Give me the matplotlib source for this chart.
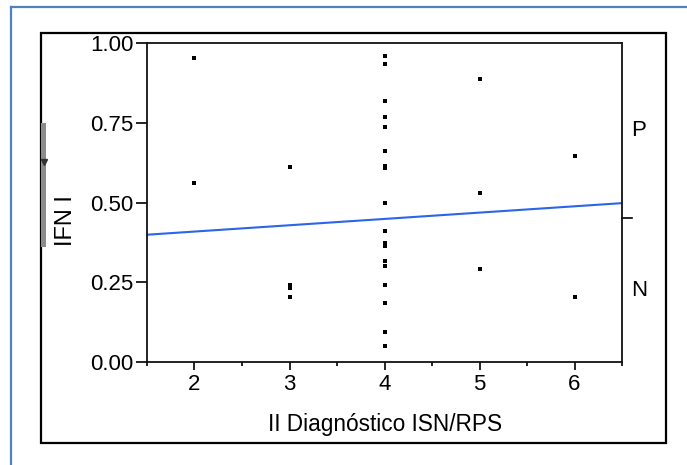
import matplotlib.pyplot as plt
from matplotlib.patches import Rectangle
from matplotlib.lines import Line2D

# datos
diag_x = [2, 2,
          3, 3, 3, 3,
          4, 4, 4, 4, 4, 4, 4, 4, 4, 4, 4, 4, 4, 4, 4, 4, 4, 4,
          5, 5, 5,
          6, 6]
ifn_y = [0.954, 0.562,
         0.612, 0.241, 0.231, 0.204,
         0.959, 0.933, 0.817, 0.768, 0.738, 0.662, 0.614, 0.607, 0.500, 0.410,
         0.372, 0.365, 0.316, 0.301, 0.240, 0.185, 0.094, 0.049,
         0.888, 0.531, 0.290,
         0.647, 0.205]
linea_x = [1.5, 6.5]
linea_y = [0.399, 0.498]
xticks = [2, 3, 4, 5, 6]
yticks = [0.0, 0.25, 0.5, 0.75, 1.0]
ytick_labels = ['0.00', '0.25', '0.50', '0.75', '1.00']

plt.rcParams['font.family'] = ['Liberation Sans', 'DejaVu Sans']

W, H = 687, 465
fig = plt.figure(figsize=(6.87, 4.65), dpi=100)
ax = fig.add_axes([147 / W, 1 - 362 / H, (622 - 147) / W, (362 - 43) / H])

ax.plot(diag_x, ifn_y, 's', color='black', markersize=2.6, markeredgewidth=0)
ax.plot(linea_x, linea_y, color='#2B65EC', linewidth=1.5)

ax.set_xlim(1.5, 6.5)
ax.set_ylim(0, 1)
ax.set_xticks(xticks)
ax.set_xticks([1.5, 2.5, 3.5, 4.5, 5.5, 6.5], minor=True)
ax.set_yticks(yticks)
ax.set_yticklabels(ytick_labels)
ax.tick_params(axis='x', which='major', length=6, width=1.2, pad=3, labelsize=16, direction='out')
ax.tick_params(axis='x', which='minor', length=3, width=1.2, direction='out')
ax.tick_params(axis='y', which='major', length=8, width=1.2, pad=1.5, labelsize=16, direction='out')
for s in ax.spines.values():
    s.set_linewidth(1.3)
    s.set_color('#111111')

# marca a la derecha y etiquetas P / N
tr = ax.get_yaxis_transform()
ax.plot([1.0, 1.022], [0.45, 0.45], color='black', lw=1.2, transform=tr, clip_on=False)
ax.text(1.02, 0.726, 'P', transform=tr, fontsize=16, va='center', ha='left')
ax.text(1.02, 0.225, 'N', transform=tr, fontsize=16, va='center', ha='left')

# titulos de los ejes
fig.text(385 / W, 1 - 424.5 / H, 'II Diagnóstico ISN/RPS', fontsize=16.3, ha='center', va='center')
fig.text(66.5 / W, 1 - 221 / H, 'IFN I', fontsize=17, rotation=90, ha='center', va='center')

# marco negro
fig.add_artist(Rectangle((41 / W, 1 - 443 / H), (666 - 41) / W, (443 - 33) / H,
                         transform=fig.transFigure, fill=False, ec='black', lw=1.6))
# barra gris con flecha
fig.add_artist(Rectangle((41 / W, 1 - 247 / H), 5 / W, (247 - 123) / H,
                         transform=fig.transFigure, color='#8c8c8c', lw=0))
fig.add_artist(Line2D([43.5 / W], [1 - 162 / H], marker='v', markersize=5,
                      color='#333333', transform=fig.transFigure))
# borde azul
fig.add_artist(Line2D([11 / W, 11 / W], [0, 1 - 7 / H], color='#4F81BD', lw=1.6,
                      transform=fig.transFigure))
fig.add_artist(Line2D([11 / W, 1], [1 - 7 / H, 1 - 7 / H], color='#4F81BD', lw=1.6,
                      transform=fig.transFigure))

fig.savefig('out.png', dpi=100)
